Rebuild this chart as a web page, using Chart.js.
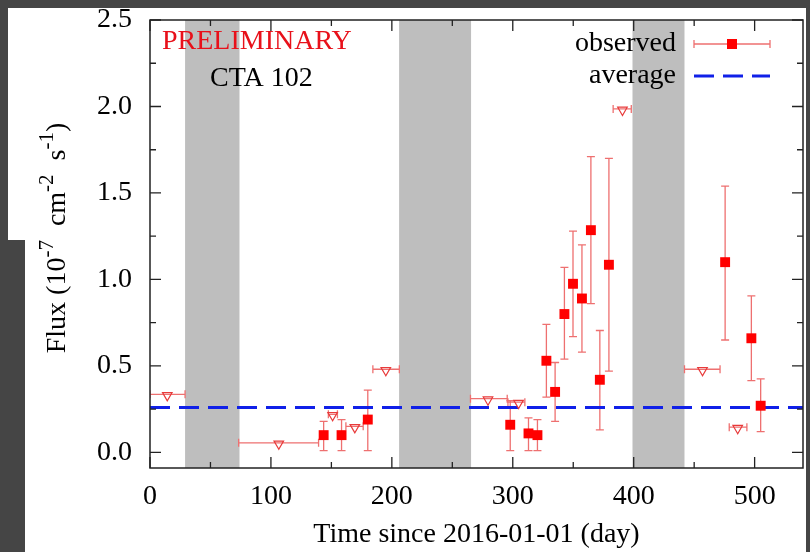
<!DOCTYPE html>
<html lang="en">
<head>
<meta charset="UTF-8">
<title>CTA 102 light curve</title>
<script src="https://cdn.jsdelivr.net/npm/chart.js"></script>
<style>
  html, body { margin: 0; padding: 0; background: #454545; }
  canvas { display: block; }
</style>
</head>
<body>
<canvas id="lc" width="810" height="552"></canvas>
<script>
  // detections: day since 2016-01-01, flux and error range (1e-7 cm^-2 s^-1)
  const obsDay  = [143.6, 158.4, 180.1, 297.9, 313.0, 320.4, 327.8, 335.0, 342.7, 349.8, 357.2, 364.6, 372.0, 379.5, 475.6, 497.3, 505.0];
  const obsFlux = [0.10, 0.10, 0.19, 0.16, 0.11, 0.10, 0.53, 0.35, 0.80, 0.975, 0.89, 1.285, 0.42, 1.085, 1.10, 0.66, 0.27];
  const obsLow  = [0.01, 0.01, 0.01, 0.01, 0.01, 0.01, 0.32, 0.18, 0.54, 0.67, 0.58, 0.86, 0.13, 0.47, 0.65, 0.415, 0.12];
  const obsHigh = [0.18, 0.19, 0.36, 0.30, 0.20, 0.19, 0.74, 0.52, 1.07, 1.28, 1.20, 1.71, 0.705, 1.70, 1.54, 0.905, 0.425];

  // upper limits with their time bins
  const ulDay   = [14.3, 106.5, 151.0, 169.4, 195.0, 279.5, 304.8, 390.7, 456.9, 486.0];
  const ulFlux  = [0.33, 0.05, 0.215, 0.145, 0.475, 0.305, 0.285, 1.98, 0.475, 0.14];
  const ulStart = [0, 73.3, 147.5, 162.0, 184.3, 265.0, 296.0, 383.0, 442.0, 479.0];
  const ulEnd   = [29, 139.4, 155.0, 176.3, 206.2, 295.4, 310.0, 398.0, 471.4, 493.6];

  const averageFlux = 0.26;

  // shaded periods (days)
  const bandStart = [29, 206, 399];
  const bandEnd   = [74, 265.5, 442];

  const xTickValues = [0, 100, 200, 300, 400, 500];
  const xTickLabels = ['0', '100', '200', '300', '400', '500'];
  const xMinorTicks = [50, 150, 250, 350, 450];
  const yTickValues = [0, 0.5, 1, 1.5, 2, 2.5];
  const yTickLabels = ['0.0', '0.5', '1.0', '1.5', '2.0', '2.5'];
  const yMinorTicks = [0.25, 0.75, 1.25, 1.75, 2.25];

  const serif = "'Liberation Serif', 'DejaVu Serif', serif";
  const fontSize = 28;
  const red = '#ff0000';
  const barRed = '#ee7070';
  const blue = '#1020e8';

  const observed = obsDay.map((d, i) => ({ x: d, y: obsFlux[i], lo: obsLow[i], hi: obsHigh[i] }));
  const limits = ulDay.map((d, i) => ({ x: d, y: ulFlux[i], x0: ulStart[i], x1: ulEnd[i] }));

  // dark screen border around the plot
  const backdrop = {
    id: 'backdrop',
    beforeDraw(chart) {
      const { ctx, width, height } = chart;
      ctx.save();
      ctx.fillStyle = '#454545';
      ctx.fillRect(0, 0, width, height);
      ctx.fillStyle = '#ffffff';
      ctx.fillRect(8, 8, width - 12, height - 8);
      ctx.fillStyle = '#454545';
      ctx.fillRect(8, 240, 17, height - 240);
      ctx.restore();
    }
  };

  // grey bands and error bars under the markers
  const underlay = {
    id: 'underlay',
    beforeDatasetsDraw(chart) {
      const { ctx, chartArea: a, scales: { x, y } } = chart;
      ctx.save();
      ctx.beginPath();
      ctx.rect(a.left, a.top, a.right - a.left, a.bottom - a.top);
      ctx.clip();
      ctx.fillStyle = '#bebebe';
      bandStart.forEach((s, i) => {
        const l = x.getPixelForValue(s), r = x.getPixelForValue(bandEnd[i]);
        ctx.fillRect(l, a.top, r - l, a.bottom - a.top);
      });
      ctx.strokeStyle = barRed;
      ctx.lineWidth = 1.3;
      ctx.beginPath();
      observed.forEach(p => {
        const px = x.getPixelForValue(p.x);
        const t = y.getPixelForValue(p.hi), b = y.getPixelForValue(p.lo);
        ctx.moveTo(px, t); ctx.lineTo(px, b);
        ctx.moveTo(px - 4, t); ctx.lineTo(px + 4, t);
        ctx.moveTo(px - 4, b); ctx.lineTo(px + 4, b);
      });
      limits.forEach(p => {
        const py = y.getPixelForValue(p.y) - 1;
        const l = x.getPixelForValue(p.x0), r = x.getPixelForValue(p.x1);
        ctx.moveTo(l, py); ctx.lineTo(r, py);
        ctx.moveTo(l, py - 4); ctx.lineTo(l, py + 4);
        ctx.moveTo(r, py - 4); ctx.lineTo(r, py + 4);
      });
      ctx.stroke();
      ctx.restore();
    }
  };

  // frame with inward ticks, titles, labels and legend
  const overlay = {
    id: 'overlay',
    afterDraw(chart) {
      const { ctx, chartArea: a, scales: { x, y } } = chart;
      ctx.save();
      ctx.strokeStyle = '#222';
      ctx.lineWidth = 1.5;
      ctx.strokeRect(a.left, a.top, a.right - a.left, a.bottom - a.top);

      ctx.lineWidth = 1.3;
      ctx.beginPath();
      const tickX = (v, len) => {
        const px = x.getPixelForValue(v);
        ctx.moveTo(px, a.bottom); ctx.lineTo(px, a.bottom - len);
        ctx.moveTo(px, a.top); ctx.lineTo(px, a.top + len);
      };
      const tickY = (v, len) => {
        const py = y.getPixelForValue(v);
        ctx.moveTo(a.left, py); ctx.lineTo(a.left + len, py);
        ctx.moveTo(a.right, py); ctx.lineTo(a.right - len, py);
      };
      xTickValues.forEach(v => tickX(v, 11));
      xMinorTicks.forEach(v => tickX(v, 6));
      yTickValues.forEach(v => tickY(v, 11));
      yMinorTicks.forEach(v => tickY(v, 6));
      ctx.stroke();

      // annotations
      const big = fontSize + 'px ' + serif, small = '21px ' + serif;
      ctx.textBaseline = 'middle';
      ctx.font = big;
      ctx.fillStyle = '#e8101a';
      ctx.textAlign = 'left';
      ctx.fillText('PRELIMINARY', a.left + 12, a.top + 22);
      ctx.fillStyle = '#000';
      ctx.fillText('CTA 102', a.left + 60, a.top + 59);

      // legend
      const lx0 = a.right - 109, lx1 = a.right - 33, lm = (lx0 + lx1) / 2;
      const ly1 = a.top + 24, ly2 = a.top + 56;
      ctx.textAlign = 'right';
      ctx.fillText('observed', a.right - 127, ly1);
      ctx.fillText('average', a.right - 127, ly2);
      ctx.strokeStyle = barRed;
      ctx.lineWidth = 1.3;
      ctx.beginPath();
      ctx.moveTo(lx0, ly1); ctx.lineTo(lx1, ly1);
      ctx.moveTo(lx0, ly1 - 4); ctx.lineTo(lx0, ly1 + 4);
      ctx.moveTo(lx1, ly1 - 4); ctx.lineTo(lx1, ly1 + 4);
      ctx.stroke();
      ctx.fillStyle = red;
      ctx.fillRect(lm - 5, ly1 - 5, 10, 10);
      ctx.strokeStyle = blue;
      ctx.lineWidth = 3;
      ctx.setLineDash([20, 9]);
      ctx.beginPath();
      ctx.moveTo(lx0, ly2); ctx.lineTo(lx1, ly2);
      ctx.stroke();
      ctx.setLineDash([]);

      // axis titles
      ctx.fillStyle = '#000';
      ctx.textAlign = 'center';
      ctx.fillText('Time since 2016-01-01 (day)', (a.left + a.right) / 2, 535);

      const parts = [
        ['Flux (10', false], ['-7', true], ['  cm', false], ['-2', true],
        ['  s', false], ['-1', true], [')', false]
      ];
      let total = 0;
      parts.forEach(([t, sup]) => { ctx.font = sup ? small : big; total += ctx.measureText(t).width; });
      ctx.translate(65, 238);
      ctx.rotate(-Math.PI / 2);
      ctx.textAlign = 'left';
      ctx.textBaseline = 'alphabetic';
      let pos = -total / 2;
      parts.forEach(([t, sup]) => {
        ctx.font = sup ? small : big;
        ctx.fillText(t, pos, sup ? -12 : 0);
        pos += ctx.measureText(t).width;
      });
      ctx.restore();
    }
  };

  new Chart(document.getElementById('lc'), {
    type: 'scatter',
    data: {
      datasets: [
        {
          label: 'observed',
          data: observed,
          pointStyle: 'rect',
          pointRadius: 7,
          pointBackgroundColor: red,
          pointBorderColor: red,
          pointBorderWidth: 0,
          order: 1
        },
        {
          label: 'upper limit',
          data: limits,
          pointStyle: 'triangle',
          rotation: 180,
          pointRadius: 5.5,
          pointBackgroundColor: 'rgba(255,255,255,0)',
          pointBorderColor: '#e83a3a',
          pointBorderWidth: 1.2,
          order: 2
        },
        {
          label: 'average',
          type: 'line',
          data: [{ x: 0, y: averageFlux }, { x: 540, y: averageFlux }],
          borderColor: blue,
          borderWidth: 3,
          borderDash: [20, 9],
          pointRadius: 0,
          order: 3
        }
      ]
    },
    options: {
      responsive: false,
      devicePixelRatio: 1,
      animation: false,
      layout: { padding: { left: 0, top: 20, right: 4, bottom: 0 } },
      plugins: { legend: { display: false }, tooltip: { enabled: false } },
      scales: {
        x: {
          type: 'linear',
          min: 0,
          max: 540,
          grid: { display: false, drawTicks: false },
          border: { display: false },
          afterBuildTicks: s => { s.ticks = xTickValues.map(v => ({ value: v })); },
          afterFit: s => { s.height = 84; s.paddingLeft = 0; s.paddingRight = 0; },
          ticks: {
            padding: 12,
            color: '#000',
            font: { family: serif, size: fontSize },
            maxRotation: 0,
            callback: (v) => xTickLabels[xTickValues.indexOf(v)]
          }
        },
        y: {
          type: 'linear',
          min: -0.09,
          max: 2.5,
          grid: { display: false, drawTicks: false },
          border: { display: false },
          afterBuildTicks: s => { s.ticks = yTickValues.map(v => ({ value: v })); },
          afterFit: s => { s.width = 150; s.paddingTop = 0; s.paddingBottom = 0; },
          ticks: {
            padding: 18,
            color: '#000',
            font: { family: serif, size: fontSize },
            callback: (v) => yTickLabels[yTickValues.indexOf(v)]
          }
        }
      }
    },
    plugins: [backdrop, underlay, overlay]
  });
</script>
</body>
</html>
